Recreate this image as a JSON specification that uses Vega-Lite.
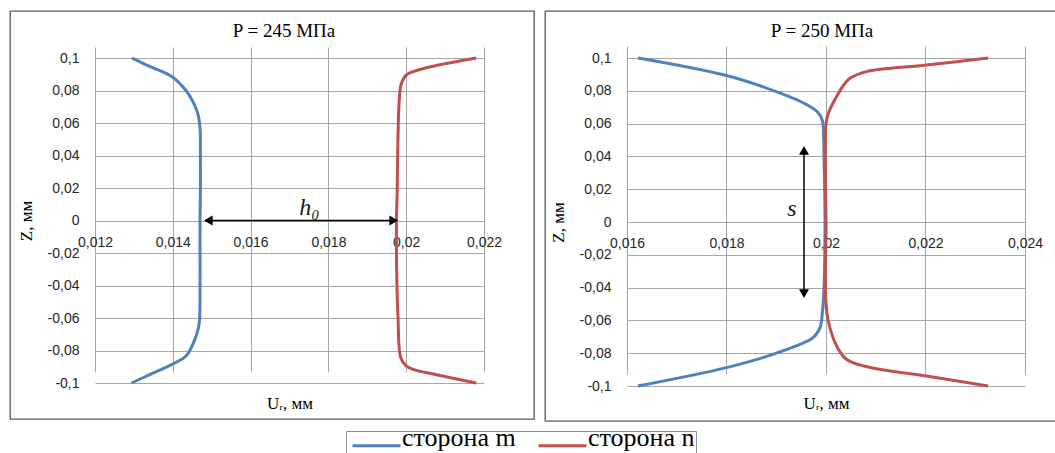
{
  "$schema": "https://vega.github.io/schema/vega-lite/v6.json",
  "padding": {"left": 9, "top": 10, "right": 0, "bottom": 0},
  "background": "white",
  "spacing": 9,
  "config": {
    "locale": {"number": {"decimal": ",", "thousands": " ", "grouping": [3], "currency": ["", ""], "minus": "-"}},
    "view": {"stroke": "#595959", "strokeWidth": 1.3},
    "axis": {"gridColor": "#a6a6a6", "gridWidth": 1, "labelFont": "Liberation Sans", "labelFontSize": 14, "labelColor": "#262626", "titleFont": "Liberation Serif", "titleFontSize": 17, "titleFontWeight": "normal", "titleColor": "#000000", "domain": false, "ticks": false, "tickSize": 0, "labelOverlap": false, "labelFlush": false, "labelBound": false},
    "title": {"font": "Liberation Serif", "fontSize": 19, "fontWeight": "normal", "color": "#000000"},
    "legend": {"title": null, "orient": "none", "legendX": 336, "legendY": 420, "direction": "horizontal", "symbolType": "M-2,0H2", "symbolSize": 576, "symbolStrokeWidth": 3, "symbolOffset": 16, "labelOffset": 12, "labelBaseline": "alphabetic", "labelFont": "Liberation Serif", "labelFontSize": 26, "labelColor": "#000000", "strokeColor": "#8c8c8c", "fillColor": "white", "padding": 1, "columnPadding": 16}
  },
  "resolve": {"scale": {"x": "independent", "y": "independent", "color": "shared", "shape": "shared"}},
  "datasets": {
    "curves": [
      {"p": "L", "side": "сторона m", "z": 0.1, "u": 0.01295},
      {"p": "L", "side": "сторона m", "z": 0.095, "u": 0.01339},
      {"p": "L", "side": "сторона m", "z": 0.0885, "u": 0.01398},
      {"p": "L", "side": "сторона m", "z": 0.08, "u": 0.01434},
      {"p": "L", "side": "сторона m", "z": 0.0735, "u": 0.01451},
      {"p": "L", "side": "сторона m", "z": 0.066, "u": 0.01464},
      {"p": "L", "side": "сторона m", "z": 0.057, "u": 0.0147},
      {"p": "L", "side": "сторона m", "z": 0.04, "u": 0.01471},
      {"p": "L", "side": "сторона m", "z": 0.02, "u": 0.01471},
      {"p": "L", "side": "сторона m", "z": 0, "u": 0.0147},
      {"p": "L", "side": "сторона m", "z": -0.02, "u": 0.0147},
      {"p": "L", "side": "сторона m", "z": -0.04, "u": 0.0147},
      {"p": "L", "side": "сторона m", "z": -0.06, "u": 0.01469},
      {"p": "L", "side": "сторона m", "z": -0.066, "u": 0.01466},
      {"p": "L", "side": "сторона m", "z": -0.0742, "u": 0.01455},
      {"p": "L", "side": "сторона m", "z": -0.0834, "u": 0.01434},
      {"p": "L", "side": "сторона m", "z": -0.0885, "u": 0.01398},
      {"p": "L", "side": "сторона m", "z": -0.095, "u": 0.01339},
      {"p": "L", "side": "сторона m", "z": -0.1, "u": 0.01294},
      {"p": "L", "side": "сторона n", "z": 0.1, "u": 0.0218},
      {"p": "L", "side": "сторона n", "z": 0.0951, "u": 0.02072},
      {"p": "L", "side": "сторона n", "z": 0.0918, "u": 0.0202},
      {"p": "L", "side": "сторона n", "z": 0.0895, "u": 0.02},
      {"p": "L", "side": "сторона n", "z": 0.0838, "u": 0.01987},
      {"p": "L", "side": "сторона n", "z": 0.0735, "u": 0.01982},
      {"p": "L", "side": "сторона n", "z": 0.04, "u": 0.01978},
      {"p": "L", "side": "сторона n", "z": 0.02, "u": 0.01977},
      {"p": "L", "side": "сторона n", "z": 0, "u": 0.01975},
      {"p": "L", "side": "сторона n", "z": -0.02, "u": 0.01975},
      {"p": "L", "side": "сторона n", "z": -0.037, "u": 0.01976},
      {"p": "L", "side": "сторона n", "z": -0.06, "u": 0.01979},
      {"p": "L", "side": "сторона n", "z": -0.0844, "u": 0.01986},
      {"p": "L", "side": "сторона n", "z": -0.0895, "u": 0.02},
      {"p": "L", "side": "сторона n", "z": -0.0918, "u": 0.0202},
      {"p": "L", "side": "сторона n", "z": -0.0946, "u": 0.02072},
      {"p": "L", "side": "сторона n", "z": -0.1, "u": 0.0218},
      {"p": "R", "side": "сторона m", "z": 0.1, "u": 0.01622},
      {"p": "R", "side": "сторона m", "z": 0.0896, "u": 0.01796},
      {"p": "R", "side": "сторона m", "z": 0.0803, "u": 0.01893},
      {"p": "R", "side": "сторона m", "z": 0.0718, "u": 0.0196},
      {"p": "R", "side": "сторона m", "z": 0.0667, "u": 0.01984},
      {"p": "R", "side": "сторона m", "z": 0.0616, "u": 0.01993},
      {"p": "R", "side": "сторона m", "z": 0.0535, "u": 0.01995},
      {"p": "R", "side": "сторона m", "z": 0.04, "u": 0.01996},
      {"p": "R", "side": "сторона m", "z": 0, "u": 0.01998},
      {"p": "R", "side": "сторона m", "z": -0.04, "u": 0.01996},
      {"p": "R", "side": "сторона m", "z": -0.0543, "u": 0.01993},
      {"p": "R", "side": "сторона m", "z": -0.0644, "u": 0.01988},
      {"p": "R", "side": "сторона m", "z": -0.0705, "u": 0.01974},
      {"p": "R", "side": "сторона m", "z": -0.0807, "u": 0.01893},
      {"p": "R", "side": "сторона m", "z": -0.0888, "u": 0.018},
      {"p": "R", "side": "сторона m", "z": -0.1, "u": 0.01622},
      {"p": "R", "side": "сторона n", "z": 0.1, "u": 0.02326},
      {"p": "R", "side": "сторона n", "z": 0.0957, "u": 0.02202},
      {"p": "R", "side": "сторона n", "z": 0.0917, "u": 0.02081},
      {"p": "R", "side": "сторона n", "z": 0.0876, "u": 0.02048},
      {"p": "R", "side": "сторона n", "z": 0.0829, "u": 0.02034},
      {"p": "R", "side": "сторона n", "z": 0.0657, "u": 0.02004},
      {"p": "R", "side": "сторона n", "z": 0.0596, "u": 0.02},
      {"p": "R", "side": "сторона n", "z": 0, "u": 0.02},
      {"p": "R", "side": "сторона n", "z": -0.0596, "u": 0.02004},
      {"p": "R", "side": "сторона n", "z": -0.0817, "u": 0.02034},
      {"p": "R", "side": "сторона n", "z": -0.0858, "u": 0.02054},
      {"p": "R", "side": "сторона n", "z": -0.0898, "u": 0.02107},
      {"p": "R", "side": "сторона n", "z": -0.0939, "u": 0.02202},
      {"p": "R", "side": "сторона n", "z": -0.1, "u": 0.02326}
    ],
    "arrows": [
      {"p": "L", "u": 0.014913, "u2": 0.019679, "z": 0, "z2": 0},
      {"p": "R", "u": 0.019558, "u2": 0.019558, "z": -0.04368, "z2": 0.04368}
    ],
    "heads": [
      {"p": "L", "u": 0.014913, "z": 0, "dir": "left"},
      {"p": "L", "u": 0.019679, "z": 0, "dir": "right"},
      {"p": "R", "u": 0.019558, "z": 0.04368, "dir": "up"},
      {"p": "R", "u": 0.019558, "z": -0.04368, "dir": "down"}
    ],
    "labels": [
      {"p": "L", "u": 0.017514, "z": 0.0077, "t": "h₀"},
      {"p": "R", "u": 0.019317, "z": 0.0079, "t": "s"}
    ]
  },
  "hconcat": [
    {
      "width": 524,
      "height": 408,
      "title": {"text": "P = 245 МПа", "anchor": "middle", "frame": "group", "dx": 12, "offset": -39, "baseline": "middle"},
      "layer": [
        {
          "data": {"name": "curves"},
          "transform": [{"filter": "datum.p == 'L'"}],
          "mark": {"type": "line", "strokeWidth": 3, "interpolate": "catmull-rom"},
          "encoding": {
            "x": {"field": "u", "type": "quantitative",
              "scale": {"domain": [0.012, 0.022], "range": [85, 474], "nice": false, "zero": false},
              "axis": {"values": [0.012, 0.014, 0.016, 0.018, 0.02, 0.022], "format": "~g", "offset": -198.5, "labelPadding": 15, "title": "Uᵣ, мм", "titleY": 182.5, "titleBaseline": "middle", "grid": true}},
            "y": {"field": "z", "type": "quantitative",
              "scale": {"domain": [-0.1, 0.1], "range": [372, 47], "nice": false, "zero": false},
              "axis": {"values": [-0.1, -0.08, -0.06, -0.04, -0.02, 0, 0.02, 0.04, 0.06, 0.08, 0.1], "format": "~g", "offset": -85, "labelPadding": 16, "title": "Z, мм", "titleX": -69, "titleBaseline": "middle", "titleAlign": "center", "grid": true}},
            "color": {"field": "side", "type": "nominal",
              "scale": {"domain": ["сторона m", "сторона n"], "range": ["#4F81BD", "#C0504D"]}},
            "order": {"field": "z", "sort": "descending"}
          }
        },
        {
          "data": {"name": "arrows"},
          "transform": [{"filter": "datum.p == 'L'"}],
          "mark": {"type": "rule", "color": "#000000", "strokeWidth": 1.5},
          "encoding": {"x": {"field": "u", "type": "quantitative"}, "x2": {"field": "u2"}, "y": {"field": "z", "type": "quantitative"}, "y2": {"field": "z2"}}
        },
        {
          "data": {"name": "heads"},
          "transform": [{"filter": "datum.p == 'L'"}],
          "mark": {"type": "point", "filled": true, "color": "#000000", "size": 100, "opacity": 1},
          "encoding": {"x": {"field": "u", "type": "quantitative"}, "y": {"field": "z", "type": "quantitative"},
            "shape": {"field": "dir", "type": "nominal", "scale": {"domain": ["left", "right", "up", "down"], "range": ["triangle-left", "triangle-right", "triangle-up", "triangle-down"]}, "legend": null}}
        },
        {
          "data": {"name": "labels"},
          "transform": [{"filter": "datum.p == 'L'"}],
          "mark": {"type": "text", "font": "Liberation Serif", "fontStyle": "italic", "fontSize": 24, "color": "#1a1a1a", "baseline": "middle", "align": "center"},
          "encoding": {"x": {"field": "u", "type": "quantitative"}, "y": {"field": "z", "type": "quantitative"}, "text": {"field": "t"}}
        }
      ]
    },
    {
      "width": 514,
      "height": 410,
      "title": {"text": "P = 250 МПа", "anchor": "middle", "frame": "group", "dx": 20, "offset": -39, "baseline": "middle"},
      "layer": [
        {
          "data": {"name": "curves"},
          "transform": [{"filter": "datum.p == 'R'"}],
          "mark": {"type": "line", "strokeWidth": 3, "interpolate": "catmull-rom"},
          "encoding": {
            "x": {"field": "u", "type": "quantitative",
              "scale": {"domain": [0.016, 0.024], "range": [82, 480], "nice": false, "zero": false},
              "axis": {"values": [0.016, 0.018, 0.02, 0.022, 0.024], "format": "~g", "offset": -199, "labelPadding": 14, "title": "Uᵣ, мм", "titleY": 181, "titleBaseline": "middle", "grid": true}},
            "y": {"field": "z", "type": "quantitative",
              "scale": {"domain": [-0.1, 0.1], "range": [375, 47], "nice": false, "zero": false},
              "axis": {"values": [-0.1, -0.08, -0.06, -0.04, -0.02, 0, 0.02, 0.04, 0.06, 0.08, 0.1], "format": "~g", "offset": -82, "labelPadding": 16, "title": "Z, мм", "titleX": -69, "titleBaseline": "middle", "titleAlign": "center", "grid": true}},
            "color": {"field": "side", "type": "nominal",
              "scale": {"domain": ["сторона m", "сторона n"], "range": ["#4F81BD", "#C0504D"]}},
            "order": {"field": "z", "sort": "descending"}
          }
        },
        {
          "data": {"name": "arrows"},
          "transform": [{"filter": "datum.p == 'R'"}],
          "mark": {"type": "rule", "color": "#000000", "strokeWidth": 1.5},
          "encoding": {"x": {"field": "u", "type": "quantitative"}, "x2": {"field": "u2"}, "y": {"field": "z", "type": "quantitative"}, "y2": {"field": "z2"}}
        },
        {
          "data": {"name": "heads"},
          "transform": [{"filter": "datum.p == 'R'"}],
          "mark": {"type": "point", "filled": true, "color": "#000000", "size": 100, "opacity": 1},
          "encoding": {"x": {"field": "u", "type": "quantitative"}, "y": {"field": "z", "type": "quantitative"},
            "shape": {"field": "dir", "type": "nominal", "scale": {"domain": ["left", "right", "up", "down"], "range": ["triangle-left", "triangle-right", "triangle-up", "triangle-down"]}, "legend": null}}
        },
        {
          "data": {"name": "labels"},
          "transform": [{"filter": "datum.p == 'R'"}],
          "mark": {"type": "text", "font": "Liberation Serif", "fontStyle": "italic", "fontSize": 24, "color": "#1a1a1a", "baseline": "middle", "align": "center"},
          "encoding": {"x": {"field": "u", "type": "quantitative"}, "y": {"field": "z", "type": "quantitative"}, "text": {"field": "t"}}
        }
      ]
    }
  ]
}
